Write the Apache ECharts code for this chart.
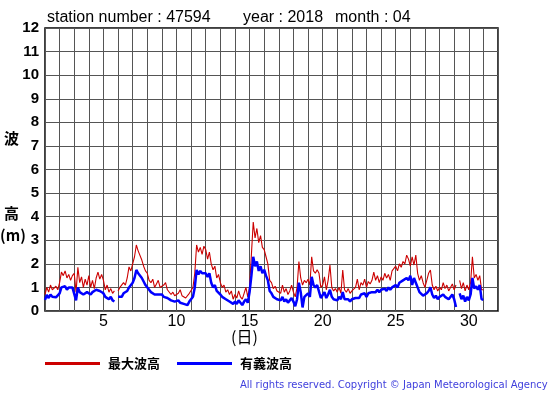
<!DOCTYPE html>
<html><head><meta charset="utf-8">
<script src="https://cdn.jsdelivr.net/npm/echarts@6/dist/echarts.min.js"></script>
<style>html,body{margin:0;padding:0;background:#fff}#c{width:555px;height:395px}</style>
</head><body><div id="c"></div>
<script>
// 3-hourly samples from day 1.0 to day 31.0 (8 per day)
const stepsPerDay = 8;
const startDay = 1;
const maxWave = [
 0.7,1.0,0.8,1.1,0.9,0.85,1.05,0.9,
 1.2,1.65,1.5,1.7,1.4,1.55,1.3,1.5,
 1.6,0.8,1.85,1.2,1.45,1.0,1.35,1.1,
 1.5,1.0,1.3,0.95,1.4,1.65,1.35,1.55,
 1.3,0.9,1.1,0.8,0.95,0.75,0.85,null,
 0.85,1.0,0.95,1.2,1.1,1.4,1.87,1.7,
 2.0,2.3,2.8,2.55,2.6,2.16,1.9,1.7,
 1.6,1.3,1.2,1.35,1.0,1.15,1.3,1.0,
 1.0,1.1,1.2,0.9,0.85,0.7,0.8,0.65,
 0.6,0.75,0.9,0.65,0.7,0.55,0.6,0.75,
 0.7,1.0,1.6,2.8,2.5,2.7,2.4,2.75,
 2.6,2.2,2.5,2.0,1.75,1.9,1.4,1.55,
 1.2,1.0,1.1,0.8,0.9,0.7,0.85,0.5,
 0.7,0.55,0.85,0.6,0.5,0.75,1.0,0.6,
 1.0,2.4,3.77,3.1,3.5,2.9,3.2,2.7,
 2.6,2.3,2.0,1.3,1.2,0.95,1.05,0.85,
 0.9,0.75,1.1,0.8,0.95,0.7,0.85,1.1,
 0.8,0.6,1.0,2.1,1.4,1.1,1.3,1.2,
 1.35,1.1,2.3,1.7,1.6,1.75,1.6,1.0,
 1.1,1.45,0.9,1.3,1.95,1.0,0.85,0.95,
 0.8,1.0,0.75,1.74,0.9,0.8,0.95,0.75,
 0.85,0.8,1.0,1.35,0.9,1.2,1.1,1.35,
 1.0,1.25,1.15,1.3,1.65,1.3,1.5,1.2,
 1.45,1.3,1.6,1.4,1.55,1.3,1.7,1.65,
 1.9,1.7,2.0,1.85,2.1,2.0,2.37,2.2,
 1.9,2.3,1.95,2.37,1.6,1.3,1.5,1.2,
 1.0,1.3,1.6,1.74,1.1,0.9,1.05,0.85,
 1.0,0.9,1.2,0.95,1.1,0.85,1.0,1.15,
 0.9,1.1,null,1.3,0.95,1.2,0.85,1.1,
 0.9,1.2,2.3,1.4,1.55,1.3,1.5,0.9,
 0.9
];
const sigWave = [
 0.47,0.68,0.55,0.7,0.6,0.65,0.58,0.62,
 0.75,1.0,0.95,1.05,0.9,1.0,0.95,1.0,
 0.95,0.45,1.0,0.8,0.85,0.7,0.75,0.8,
 0.85,0.7,0.8,0.75,0.9,0.98,0.85,0.9,
 0.75,0.6,0.65,0.5,0.6,0.45,0.4,null,
 0.6,0.65,0.6,0.75,0.7,0.85,1.0,1.05,
 1.2,1.4,1.74,1.6,1.65,1.4,1.25,1.1,
 1.05,0.9,0.8,0.85,0.7,0.75,0.7,0.65,
 0.7,0.6,0.65,0.55,0.5,0.45,0.5,0.4,
 0.4,0.45,0.35,0.4,0.3,0.35,0.25,0.4,
 0.45,0.6,1.0,1.74,1.55,1.7,1.6,1.65,
 1.6,1.45,1.6,1.2,1.0,1.1,0.85,0.9,
 0.7,0.6,0.65,0.5,0.55,0.4,0.45,0.3,
 0.4,0.3,0.45,0.35,0.25,0.4,0.5,0.35,
 0.8,1.5,2.3,1.9,2.1,1.7,1.9,1.6,
 1.75,1.5,1.3,0.85,0.75,0.6,0.65,0.5,
 0.55,0.45,0.6,0.4,0.5,0.35,0.45,0.55,
 0.4,0.2,0.5,1.2,0.8,0.15,0.6,0.55,
 0.75,0.6,1.45,1.1,1.0,1.1,1.05,0.55,
 0.6,0.8,0.55,0.7,0.9,0.6,0.5,0.55,
 0.45,0.6,0.5,0.8,0.5,0.45,0.5,0.4,
 0.5,0.45,0.55,0.6,0.55,0.7,0.65,0.75,
 0.6,0.75,0.7,0.8,0.85,0.8,0.9,0.8,
 0.9,0.85,0.95,0.85,1.0,0.9,1.0,1.05,
 1.1,1.0,1.2,1.15,1.3,1.25,1.4,1.3,
 1.5,1.1,1.4,1.2,1.0,0.8,0.75,0.65,
 0.6,0.75,0.85,1.0,0.7,0.55,0.65,0.5,
 0.6,0.55,0.7,0.6,0.65,0.5,0.55,0.7,
 0.5,0.17,null,0.75,0.5,0.65,0.4,0.6,
 0.45,0.7,1.4,0.95,1.05,0.9,1.1,0.5,
 0.47
];
const xTickLabels = [5,10,15,20,25,30];
const seriesNames = ['最大波高','有義波高'];
const titleParts = ['station number : 47594','year : 2018','month : 04'];

function toPairs(arr){ return arr.map((v,i)=>[startDay + i/stepsPerDay, v]); }

const chart = echarts.init(document.getElementById('c'), null, {renderer:'canvas'});
const sans = '"Liberation Sans", Arial, sans-serif';
const cjk = '"Noto Sans CJK JP", sans-serif';
chart.setOption({
  animation:false,
  backgroundColor:'#fff',
  grid:{left:45,right:57,top:28,bottom:84,show:true,borderColor:'#000',borderWidth:1.5,backgroundColor:'transparent'},
  xAxis:{type:'value',min:1,max:32,interval:1,
    axisLine:{show:false},axisTick:{show:false},
    splitLine:{show:true,lineStyle:{color:'#555',width:1}},
    axisLabel:{margin:3,fontFamily:sans,fontSize:16,color:'#000',
      formatter:v=>xTickLabels.indexOf(v)>=0?String(v):''}},
  yAxis:{type:'value',min:0,max:12,interval:1,
    axisLine:{show:false},axisTick:{show:false},
    splitLine:{show:true,lineStyle:{color:'#555',width:1}},
    axisLabel:{margin:6,fontFamily:sans,fontSize:15,fontWeight:'bold',color:'#000'}},
  legend:{left:45,top:357,padding:0,itemWidth:55,itemHeight:3,itemGap:17,icon:'rect',
    textStyle:{fontFamily:cjk,fontSize:13,fontWeight:'bold',color:'#000',padding:[0,0,0,3]},
    data:seriesNames},
  series:[
    {name:seriesNames[0],type:'line',data:toPairs(maxWave),showSymbol:false,
     lineStyle:{color:'#cc0000',width:1.1},itemStyle:{color:'#cc0000'},connectNulls:false,z:2},
    {name:seriesNames[1],type:'line',data:toPairs(sigWave),showSymbol:false,
     lineStyle:{color:'#0000ff',width:2.5},itemStyle:{color:'#0000ff'},connectNulls:false,z:3}
  ],
  graphic:[
    {type:'text',left:47,top:10,style:{text:titleParts[0],font:'16px '+sans,fill:'#000'}},
    {type:'text',left:243,top:10,style:{text:titleParts[1],font:'16px '+sans,fill:'#000'}},
    {type:'text',left:335,top:10,style:{text:titleParts[2],font:'16px '+sans,fill:'#000'}},
    {type:'text',left:4,top:131,style:{text:'波',font:'bold 15px '+cjk,fill:'#000'}},
    {type:'text',left:4,top:206,style:{text:'高',font:'bold 15px '+cjk,fill:'#000'}},
    {type:'text',left:0,top:228,style:{text:'(m)',font:'bold 15px '+cjk,fill:'#000'}},
    {type:'text',left:231,top:329,style:{text:'(日)',font:'16px '+cjk,fill:'#000'}},
    {type:'text',left:240,top:380,style:{text:'All rights reserved. Copyright © Japan Meteorological Agency',font:'10px "DejaVu Sans", sans-serif',fill:'#4040dd'}}
  ]
});
</script></body></html>
